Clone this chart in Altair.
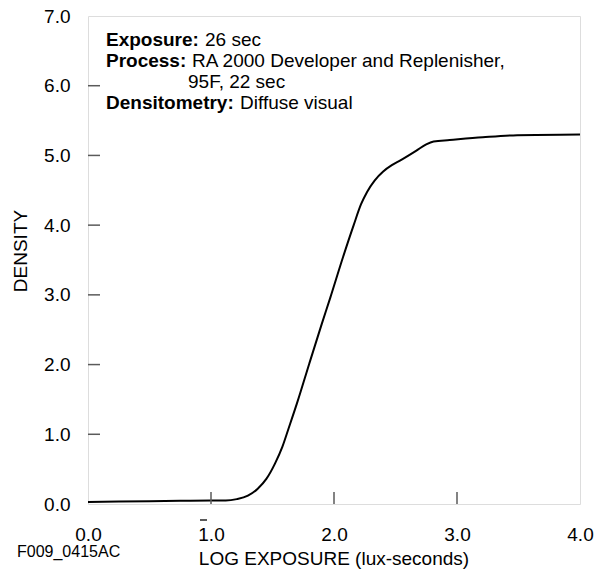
import altair as alt
import pandas as pd

# Characteristic curve
log_exposure = [0.0, 0.25, 0.5, 0.75, 1.0, 1.12, 1.21, 1.30, 1.38, 1.45, 1.52, 1.58,
                1.63, 1.70, 1.80, 1.90, 1.97, 2.075, 2.16, 2.22, 2.27, 2.33, 2.40,
                2.47, 2.54, 2.67, 2.75, 2.81, 2.94, 3.21, 3.49, 4.0]
density = [0.03, 0.035, 0.04, 0.045, 0.05, 0.05, 0.07, 0.12, 0.22, 0.36, 0.58, 0.82,
           1.08, 1.45, 2.02, 2.58, 2.96, 3.55, 4.00, 4.30, 4.48, 4.64, 4.77,
           4.86, 4.93, 5.07, 5.16, 5.20, 5.22, 5.26, 5.29, 5.30]

x_ticks = [1, 2, 3]
y_ticks = [1, 2, 3, 4, 5, 6]
x_values = [0, 1, 2, 3, 4]
y_values = [0, 1, 2, 3, 4, 5, 6, 7]
bar_value = [1]  # the "bar one" label carries a macron

x_title = "LOG EXPOSURE (lux-seconds)"
y_title = "DENSITY"
fig_id = "F009_0415AC"
bold_labels = ["Exposure:", "Process:", "Densitometry:"]
plain_labels = ["26 sec", "RA 2000 Developer and Replenisher,", "95F, 22 sec", "Diffuse visual"]

FONT = "Liberation Sans"
FRAME = "#5a5a5a"
FS = 19
W, H = 492, 488

xs = alt.Scale(domain=[0, 4], nice=False, zero=False)
ys = alt.Scale(domain=[0, 7], nice=False, zero=False)

curve_df = pd.DataFrame({"x": log_exposure, "d": density})

curve = alt.Chart(curve_df).mark_line(color="black", strokeWidth=2, interpolate="monotone").encode(
    x=alt.X("x:Q", scale=xs, axis=alt.Axis(
        values=x_values, format=".1f", title=None, grid=False, ticks=False, tickSize=0,
        domain=False, labelFontSize=FS, labelFont=FONT, labelColor="black",
        labelPadding=21, labelFlush=False, labelOverlap=False)),
    y=alt.Y("d:Q", scale=ys, axis=alt.Axis(
        values=y_values, format=".1f", title=None, grid=False, ticks=False, tickSize=0,
        domain=False, labelFontSize=FS, labelFont=FONT, labelColor="black",
        labelPadding=18, labelFlush=False, labelOverlap=False)),
)

yt = alt.Chart(pd.DataFrame({"v": y_ticks})).mark_rule(color=FRAME, strokeWidth=1.5).encode(
    y=alt.Y("v:Q", scale=ys), x=alt.value(0), x2=alt.value(12))
xt = alt.Chart(pd.DataFrame({"v": x_ticks})).mark_rule(color=FRAME, strokeWidth=1.5).encode(
    x=alt.X("v:Q", scale=xs), y=alt.value(H), y2=alt.value(H - 12))

macron = alt.Chart(pd.DataFrame({"v": bar_value})).mark_rule(
    color="black", strokeWidth=1.3, xOffset=-11, x2Offset=-4).encode(
    x=alt.X("v:Q", scale=xs), x2="v:Q", y=alt.value(H + 16), y2=alt.value(H + 16))


def txt(s, x, y, size=FS, weight="normal", align="left", angle=0, baseline="alphabetic"):
    return alt.Chart(pd.DataFrame({"t": [s]})).mark_text(
        x=x, y=y, fontSize=size, fontWeight=weight, font=FONT, align=align,
        baseline=baseline, angle=angle, color="black").encode(text="t:N")


texts = [
    txt(bold_labels[0], 18, 29.5, weight="bold"),
    txt(plain_labels[0], 117, 29.5),
    txt(bold_labels[1], 18, 50.5, weight="bold"),
    txt(plain_labels[1], 104, 50.5),
    txt(plain_labels[2], 100, 71.5),
    txt(bold_labels[2], 18, 92.5, weight="bold"),
    txt(plain_labels[3], 152, 92.5),
    txt(x_title, W / 2, 548.5, align="center"),
    txt(fig_id, -71, 541, size=16),
    txt(y_title, -67, 235, align="center", angle=270, baseline="middle"),
]

chart = alt.layer(curve, yt, xt, macron, *texts).properties(
    width=W, height=H,
    autosize=alt.AutoSizeParams(type="none"),
    padding={"left": 80, "top": 8, "right": 17, "bottom": 65},
).configure_view(stroke=FRAME, strokeWidth=2).configure(background="white")

chart.save("out.html", embed_options={"renderer": "svg", "actions": False})
